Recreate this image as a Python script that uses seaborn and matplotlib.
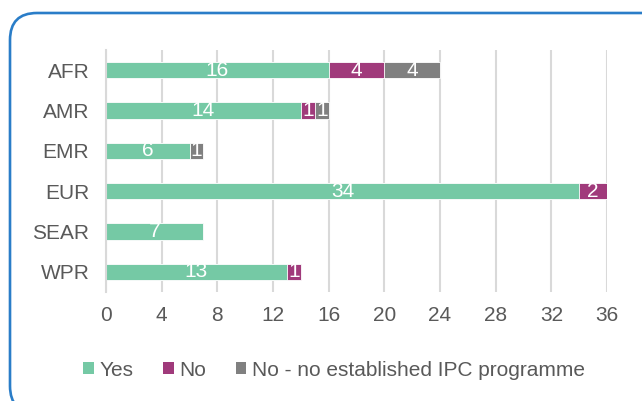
import matplotlib
matplotlib.use("Agg")
import matplotlib.pyplot as plt
from matplotlib.patches import FancyBboxPatch, Patch
import seaborn as sns
import pandas as pd
import numpy as np

regions = ["AFR", "AMR", "EMR", "EUR", "SEAR", "WPR"]
yes = [16, 14, 6, 34, 7, 13]
no = [4, 1, 0, 2, 0, 1]
no_ipc = [4, 1, 1, 0, 0, 0]
series_names = ["Yes", "No", "No - no established IPC programme"]
x_ticks = [0, 4, 8, 12, 16, 20, 24, 28, 32, 36]

colors = ["#75C9A5", "#A03A7B", "#808080"]
text_col = "#595959"
grid_col = "#D9D9D9"
fs = 15

sns.set_theme(style="white")
plt.rcParams["font.family"] = ["Liberation Sans", "DejaVu Sans"]

df = pd.DataFrame({"region": regions, "yes": yes, "no": no, "no_ipc": no_ipc})
df["c1"] = df["yes"]
df["c2"] = df["yes"] + df["no"]
df["c3"] = df["yes"] + df["no"] + df["no_ipc"]

fig = plt.figure(figsize=(6.42, 4.01), dpi=100)
ax = fig.add_axes([106 / 642, 1 - 292 / 401, (607 - 106) / 642, (292 - 50) / 401])

ax.set_axisbelow(True)
ax.xaxis.grid(True, color=grid_col, linewidth=1.5)
ax.yaxis.grid(False)

for col, c in zip(["c3", "c2", "c1"], colors[::-1]):
    sns.barplot(data=df, x=col, y="region", order=regions, color=c, width=0.4,
                orient="h", ax=ax, saturation=1, edgecolor="white", linewidth=0.6)

ax.set_xlim(0, 36)
ax.set_xticks(x_ticks)
ax.set_xlabel("")
ax.set_ylabel("")
for s in ["top", "right", "bottom"]:
    ax.spines[s].set_visible(False)
ax.spines["left"].set_color(grid_col)
ax.spines["left"].set_linewidth(1.5)
ax.tick_params(axis="both", length=0, labelsize=fs, labelcolor=text_col)
ax.tick_params(axis="y", pad=12)
ax.tick_params(axis="x", pad=10)

for i, r in df.iterrows():
    starts = [0, r["yes"], r["yes"] + r["no"]]
    vals = [r["yes"], r["no"], r["no_ipc"]]
    for s0, v in zip(starts, vals):
        if v > 0:
            ax.text(s0 + v / 2, i, str(v), ha="center", va="center",
                    color="white", fontsize=fs)

handles = [Patch(facecolor=c, edgecolor="none") for c in colors]
fig.legend(handles, series_names, loc="center", bbox_to_anchor=(334 / 642, 1 - 370 / 401),
           ncol=3, frameon=False, handlelength=0.5, handleheight=0.5,
           handletextpad=0.25, columnspacing=1.45, fontsize=fs,
           labelcolor=text_col)

frame = FancyBboxPatch((0.10, -0.12), 6.62, 4.00,
                       boxstyle="round,pad=0,rounding_size=0.27",
                       transform=fig.dpi_scale_trans, facecolor="none",
                       edgecolor="#2A7DC8", linewidth=1.9, clip_on=False)
fig.patches.append(frame)

fig.savefig("out.png", dpi=100)
